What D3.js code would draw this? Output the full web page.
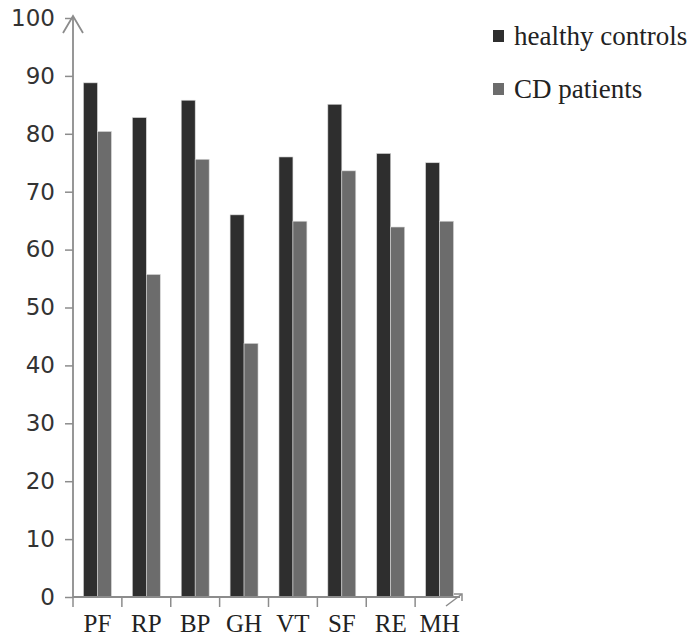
<!DOCTYPE html>
<html>
<head>
<meta charset="utf-8">
<script src="https://cdn.jsdelivr.net/npm/d3@7"></script>
<style>
  body { margin: 0; background: #fff; }
</style>
</head>
<body>
<div class="chart-area"></div>
<script>
let categories = ["PF", "RP", "BP", "GH", "VT", "SF", "RE", "MH"];
let healthy = [88.8, 82.8, 85.8, 66.0, 76.0, 85.1, 76.6, 75.0];
let patients = [80.4, 55.7, 75.6, 43.8, 64.9, 73.6, 63.9, 64.9];
let seriesNames = ["healthy controls", "CD patients"];
let yTicks = [0, 10, 20, 30, 40, 50, 60, 70, 80, 90, 100];

let colors = ["#2e2e2e", "#6c6c6c"];
let axisColor = "#8c8c8c";

let svg = d3.select(".chart-area").append("svg")
    .attr("width", 697)
    .attr("height", 640);

let x = d3.scaleBand().domain(categories).range([73, 464]);
let x1 = d3.scaleBand().domain(seriesNames).range([0, x.bandwidth()])
    .paddingInner(0).paddingOuter(0.75);
let y = d3.scaleLinear().domain([0, 100]).range([597, 18]);

// bars
let rows = categories.map(function (c, i) {
    return {cat: c, vals: [healthy[i], patients[i]]};
});

let groups = svg.selectAll(".grp").data(rows).enter().append("g")
    .attr("class", "grp")
    .attr("transform", function (d) { return "translate(" + x(d.cat) + ",0)"; });

groups.selectAll("rect").data(function (d) {
    return d.vals.map(function (v, j) { return {s: seriesNames[j], v: v, j: j}; });
}).enter().append("rect")
    .attr("x", function (d) { return x1(d.s); })
    .attr("y", function (d) { return y(d.v); })
    .attr("width", x1.bandwidth())
    .attr("height", function (d) { return y(0) - y(d.v); })
    .attr("fill", function (d) { return colors[d.j]; })
    .attr("stroke", "#d8d8d8")
    .attr("stroke-width", 0.6);

// y axis
let yAxis = svg.append("g")
    .attr("transform", "translate(73,0)")
    .call(d3.axisLeft(y).tickValues(yTicks).tickSize(8).tickPadding(10));
yAxis.select(".domain").remove();
yAxis.selectAll("line").attr("stroke", axisColor).attr("stroke-width", 1.5);
yAxis.selectAll("text")
    .attr("fill", "#333")
    .style("font-family", "DejaVu Sans, sans-serif")
    .style("font-size", "23px");

svg.append("line")
    .attr("x1", 73).attr("x2", 73)
    .attr("y1", 16).attr("y2", y(0))
    .attr("stroke", axisColor).attr("stroke-width", 1.8);
svg.append("path")
    .attr("d", "M63,33 L73,16 L83,33")
    .attr("fill", "none")
    .attr("stroke", axisColor).attr("stroke-width", 1.8);

// x axis
let xAxis = svg.append("g")
    .attr("transform", "translate(0," + y(0) + ")")
    .call(d3.axisBottom(x).tickSize(0).tickPadding(17));
xAxis.select(".domain").remove();
xAxis.selectAll("text")
    .attr("fill", "#222")
    .style("font-family", "Liberation Serif, serif")
    .style("font-size", "25px");

svg.append("line")
    .attr("x1", 73).attr("x2", 460)
    .attr("y1", y(0)).attr("y2", y(0))
    .attr("stroke", axisColor).attr("stroke-width", 1.8);

svg.selectAll(".xtick").data(categories).enter().append("line")
    .attr("class", "xtick")
    .attr("x1", function (d) { return x(d); })
    .attr("x2", function (d) { return x(d); })
    .attr("y1", y(0)).attr("y2", y(0) + 10)
    .attr("stroke", axisColor).attr("stroke-width", 1.5);

svg.append("path")
    .attr("d", "M446,606 L462,594 M454,594 L462,594 L462,601")
    .attr("fill", "none")
    .attr("stroke", axisColor).attr("stroke-width", 1.5);

// legend
let legend = svg.selectAll(".leg").data(seriesNames).enter().append("g")
    .attr("class", "leg")
    .attr("transform", function (d, i) { return "translate(493," + (30 + i * 53) + ")"; });
legend.append("rect")
    .attr("width", 11).attr("height", 12)
    .attr("fill", function (d, i) { return colors[i]; });
legend.append("text")
    .attr("x", 21).attr("y", 15)
    .attr("fill", "#222")
    .style("font-family", "Liberation Serif, serif")
    .style("font-size", "27px")
    .text(function (d) { return d; });
</script>
</body>
</html>
